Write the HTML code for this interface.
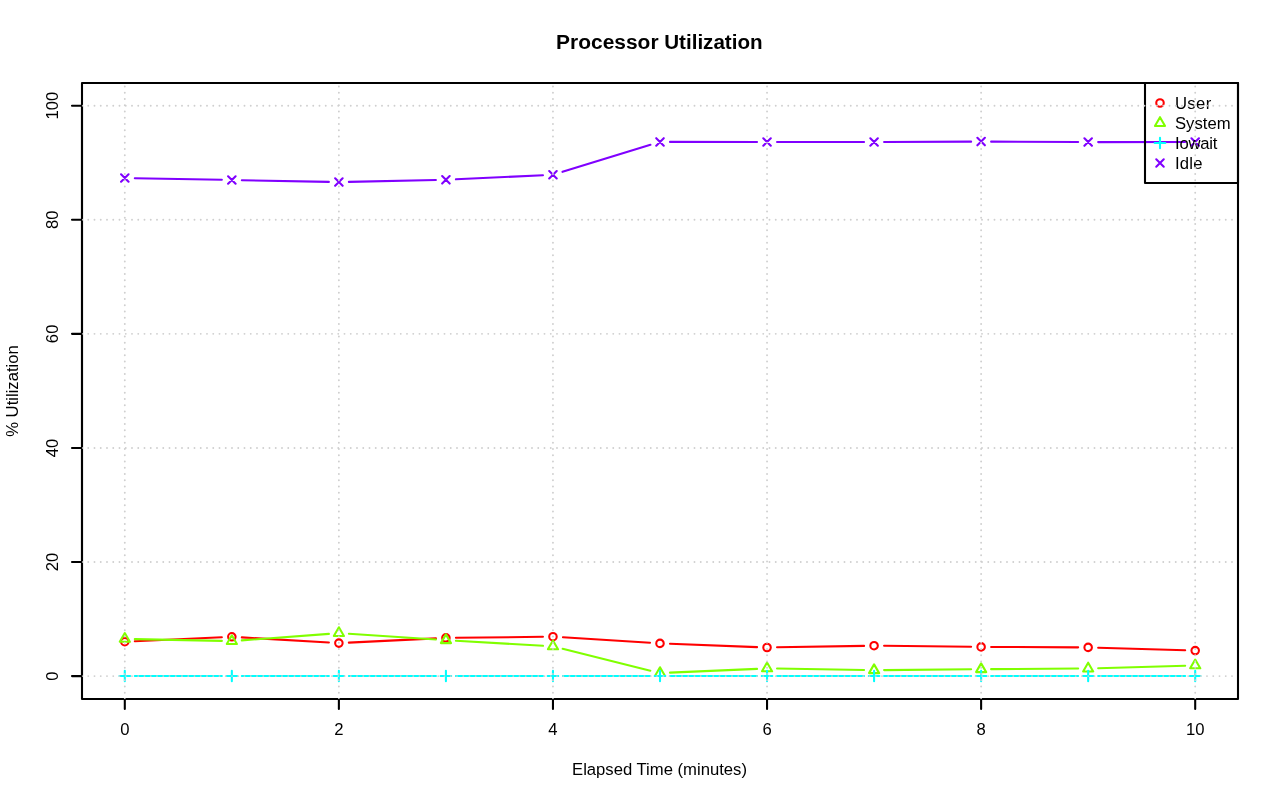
<!DOCTYPE html>
<html lang="en"><head><meta charset="utf-8"><title>Processor Utilization</title>
<style>html,body{margin:0;padding:0;background:#fff}body{width:1280px;height:801px;overflow:hidden}svg{display:block}text{font-family:"Liberation Sans",Arial,Helvetica,sans-serif;fill:#000}</style></head><body>
<svg width="1280" height="801" viewBox="0 0 1280 801">
<rect width="1280" height="801" fill="#fff"/>
<g id="series">
<path d="M134.79 641.24L221.85 637.26M241.82 637.39L328.9 642.51M348.87 642.61L435.93 638.39M455.92 637.79L542.96 636.81M562.94 637.32L650.02 642.78M669.99 643.78L757.05 647.12M777.04 647.33L864.08 645.87M884.08 645.81L971.12 646.79M991.12 646.95L1078.16 647.35M1098.16 647.7L1185.2 650.3" stroke="#FF0000" stroke-width="2.08" stroke-linecap="round" fill="none"/>
<path d="M121.05 641.7a3.75 3.75 0 1 0 7.5 0a3.75 3.75 0 1 0 -7.5 0zM228.09 636.8a3.75 3.75 0 1 0 7.5 0a3.75 3.75 0 1 0 -7.5 0zM335.13 643.1a3.75 3.75 0 1 0 7.5 0a3.75 3.75 0 1 0 -7.5 0zM442.17 637.9a3.75 3.75 0 1 0 7.5 0a3.75 3.75 0 1 0 -7.5 0zM549.21 636.7a3.75 3.75 0 1 0 7.5 0a3.75 3.75 0 1 0 -7.5 0zM656.25 643.4a3.75 3.75 0 1 0 7.5 0a3.75 3.75 0 1 0 -7.5 0zM763.29 647.5a3.75 3.75 0 1 0 7.5 0a3.75 3.75 0 1 0 -7.5 0zM870.33 645.7a3.75 3.75 0 1 0 7.5 0a3.75 3.75 0 1 0 -7.5 0zM977.37 646.9a3.75 3.75 0 1 0 7.5 0a3.75 3.75 0 1 0 -7.5 0zM1084.41 647.4a3.75 3.75 0 1 0 7.5 0a3.75 3.75 0 1 0 -7.5 0zM1191.45 650.6a3.75 3.75 0 1 0 7.5 0a3.75 3.75 0 1 0 -7.5 0z" stroke="#FF0000" stroke-width="2.08" stroke-linecap="round" stroke-linejoin="round" fill="none"/>
<path d="M134.8 639.11L221.84 640.89M241.81 640.35L328.91 633.85M348.86 633.76L435.94 639.54M455.9 640.78L542.98 645.82M562.66 648.82L650.3 670.68M669.99 672.66L757.05 668.84M777.04 668.57L864.08 670.03M884.08 670.11L971.12 669.29M991.12 669.13L1078.16 668.57M1098.16 668.21L1185.2 665.69" stroke="#80FF00" stroke-width="2.08" stroke-linecap="round" fill="none"/>
<path d="M124.8 633.07L129.85 641.82L119.75 641.82zM231.84 635.27L236.89 644.02L226.79 644.02zM338.88 627.27L343.93 636.02L333.83 636.02zM445.92 634.37L450.97 643.12L440.87 643.12zM552.96 640.57L558.01 649.32L547.91 649.32zM660 667.27L665.05 676.02L654.95 676.02zM767.04 662.57L772.09 671.32L761.99 671.32zM874.08 664.37L879.13 673.12L869.03 673.12zM981.12 663.37L986.17 672.12L976.07 672.12zM1088.16 662.67L1093.21 671.42L1083.11 671.42zM1195.2 659.57L1200.25 668.32L1190.15 668.32z" stroke="#80FF00" stroke-width="2.08" stroke-linecap="round" stroke-linejoin="round" fill="none"/>
<path d="M134.8 676L221.84 676M241.84 676L328.88 676M348.88 676L435.92 676M455.92 676L542.96 676M562.96 676L650 676M670 676L757.04 676M777.04 676L864.08 676M884.08 676L971.12 676M991.12 676L1078.16 676M1098.16 676L1185.2 676" stroke="#00FFFF" stroke-width="2.08" stroke-linecap="round" fill="none"/>
<path d="M119.5 676H130.1M124.8 670.7V681.3M226.54 676H237.14M231.84 670.7V681.3M333.58 676H344.18M338.88 670.7V681.3M440.62 676H451.22M445.92 670.7V681.3M547.66 676H558.26M552.96 670.7V681.3M654.7 676H665.3M660 670.7V681.3M761.74 676H772.34M767.04 670.7V681.3M868.78 676H879.38M874.08 670.7V681.3M975.82 676H986.42M981.12 670.7V681.3M1082.86 676H1093.46M1088.16 670.7V681.3M1189.9 676H1200.5M1195.2 670.7V681.3" stroke="#00FFFF" stroke-width="2.08" stroke-linecap="round" stroke-linejoin="round" fill="none"/>
<path d="M134.8 178.19L221.84 179.81M241.84 180.2L328.88 181.9M348.88 181.89L435.92 180.01M455.91 179.33L542.97 175.22M562.52 171.82L650.44 144.83M670 141.91L757.04 141.99M777.04 142L864.08 142M884.08 141.96L971.12 141.64M991.12 141.65L1078.16 142.05M1098.16 142.09L1185.2 142.01" stroke="#8000FF" stroke-width="2.08" stroke-linecap="round" fill="none"/>
<path d="M121.05 174.25L128.55 181.75M121.05 181.75L128.55 174.25M228.09 176.25L235.59 183.75M228.09 183.75L235.59 176.25M335.13 178.35L342.63 185.85M335.13 185.85L342.63 178.35M442.17 176.05L449.67 183.55M442.17 183.55L449.67 176.05M549.21 171L556.71 178.5M549.21 178.5L556.71 171M656.25 138.15L663.75 145.65M656.25 145.65L663.75 138.15M763.29 138.25L770.79 145.75M763.29 145.75L770.79 138.25M870.33 138.25L877.83 145.75M870.33 145.75L877.83 138.25M977.37 137.85L984.87 145.35M977.37 145.35L984.87 137.85M1084.41 138.35L1091.91 145.85M1084.41 145.85L1091.91 138.35M1191.45 138.25L1198.95 145.75M1191.45 145.75L1198.95 138.25" stroke="#8000FF" stroke-width="2.08" stroke-linecap="round" stroke-linejoin="round" fill="none"/>
</g>
<g id="axes" stroke="#000" stroke-width="2.08" stroke-linecap="round" stroke-linejoin="round" fill="none">
<path d="M124.8 699H1195.2M124.8 699v10M338.88 699v10M552.96 699v10M767.04 699v10M981.12 699v10M1195.2 699v10M82 676.1V105.7M82 676.1h-10M82 562.02h-10M82 447.94h-10M82 333.86h-10M82 219.78h-10M82 105.7h-10"/>
<rect x="82" y="83" width="1156" height="616"/>
</g>
<g id="xlabels" font-size="16.67" text-anchor="middle">
<text x="124.8" y="735">0</text>
<text x="338.88" y="735">2</text>
<text x="552.96" y="735">4</text>
<text x="767.04" y="735">6</text>
<text x="981.12" y="735">8</text>
<text x="1195.2" y="735">10</text>
</g>
<g id="ylabels" font-size="16.67" text-anchor="middle">
<text transform="translate(57.6 676.1) rotate(-90)">0</text>
<text transform="translate(57.6 562.02) rotate(-90)">20</text>
<text transform="translate(57.6 447.94) rotate(-90)">40</text>
<text transform="translate(57.6 333.86) rotate(-90)">60</text>
<text transform="translate(57.6 219.78) rotate(-90)">80</text>
<text transform="translate(57.6 105.7) rotate(-90)">100</text>
</g>
<text id="title" transform="translate(556.1 49.2) scale(1.047 1.05)" font-size="20" font-weight="bold">Processor <tspan x="103.25" textLength="94.00" lengthAdjust="spacingAndGlyphs">Utilization</tspan></text>
<text id="xlab" x="659.5" y="775" font-size="16.67" text-anchor="middle">Elapsed Time (minutes)</text>
<text id="ylab" transform="translate(18.3 391) rotate(-90)" font-size="16.67" text-anchor="middle">% Utilization</text>
<g id="legend">
<rect x="1145" y="83" width="93" height="100" fill="none" stroke="#000" stroke-width="2.08" stroke-linejoin="round"/>
<path d="M1156.25 103a3.75 3.75 0 1 0 7.5 0a3.75 3.75 0 1 0 -7.5 0z" stroke="#FF0000" stroke-width="2.08" stroke-linecap="round" stroke-linejoin="round" fill="none"/>
<text x="1175" y="108.8" font-size="16.67" textLength="36.2" lengthAdjust="spacing">User</text>
<path d="M1160 117.17L1165.05 125.92L1154.95 125.92z" stroke="#80FF00" stroke-width="2.08" stroke-linecap="round" stroke-linejoin="round" fill="none"/>
<text x="1175" y="128.8" font-size="16.67" textLength="55.55" lengthAdjust="spacing">System</text>
<path d="M1154.7 143H1165.3M1160 137.7V148.3" stroke="#00FFFF" stroke-width="2.08" stroke-linecap="round" stroke-linejoin="round" fill="none"/>
<text x="1175" y="148.8" font-size="16.67" textLength="42.3" lengthAdjust="spacing">Iowait</text>
<path d="M1156.25 159.25L1163.75 166.75M1156.25 166.75L1163.75 159.25" stroke="#8000FF" stroke-width="2.08" stroke-linecap="round" stroke-linejoin="round" fill="none"/>
<text x="1175" y="168.8" font-size="16.67" textLength="27.5" lengthAdjust="spacing">Idle</text>
</g>
<clipPath id="plotclip"><rect x="82" y="83" width="1156" height="616"/></clipPath>
<g id="grid" clip-path="url(#plotclip)" stroke="#CFCFCF" stroke-width="1.9" stroke-linecap="round" stroke-dasharray="0 6.25" fill="none">
<path d="M124.8 699V83"/>
<path d="M338.88 699V83"/>
<path d="M552.96 699V83"/>
<path d="M767.04 699V83"/>
<path d="M981.12 699V83"/>
<path d="M1195.2 699V83"/>
<path d="M82 676.1H1238"/>
<path d="M82 562.02H1238"/>
<path d="M82 447.94H1238"/>
<path d="M82 333.86H1238"/>
<path d="M82 219.78H1238"/>
<path d="M82 105.7H1238"/>
</g>
</svg></body></html>
